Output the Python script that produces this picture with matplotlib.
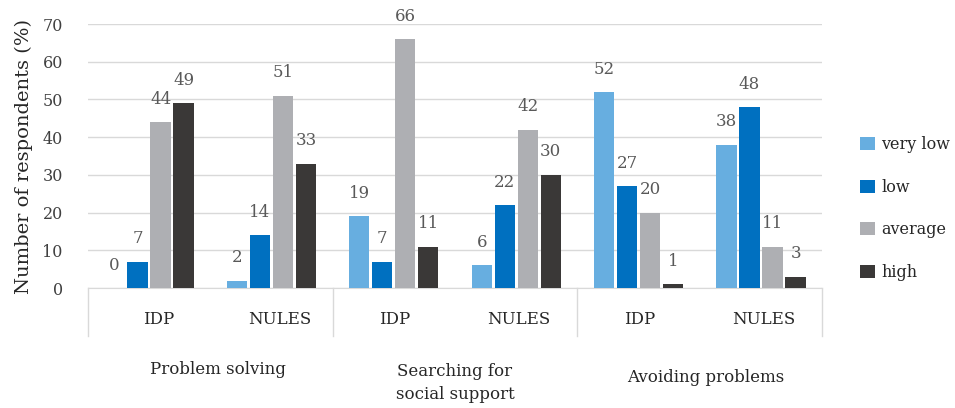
import numpy as np
import matplotlib
matplotlib.use('Agg')
import matplotlib.pyplot as plt

# === Данные ===
groups = ["Problem solving", "Searching for\nsocial support", "Avoiding problems"]
subgroups = ["IDP", "NULES", "IDP", "NULES", "IDP", "NULES"]
levels = ["very low", "low", "average", "high"]

very_low = [0, 2, 19, 6, 52, 38]
low = [7, 14, 7, 22, 27, 48]
average = [44, 51, 66, 42, 20, 11]
high = [49, 33, 11, 30, 1, 3]

colors = ["#67AEE0", "#0070C0", "#AEAFB3", "#3A3837"]

plt.rcParams['font.family'] = ['DejaVu Serif']

fig = plt.figure(figsize=(9.55, 4.08), dpi=100)
ax = fig.add_axes([0.092, 0.294, 0.769, 0.647])

x = np.arange(len(subgroups)) + 0.5
step = 0.188
width = 0.165

series = [very_low, low, average, high]
for i, (vals, col, name) in enumerate(zip(series, colors, levels)):
    pos = x + (i - 1.5) * step
    ax.bar(pos, vals, width=width, color=col, label=name, zorder=3)
    for p, v in zip(pos, vals):
        ax.annotate(str(v), (p, v), xytext=(0, 16.5), textcoords='offset points',
                    ha='center', va='center', fontsize=12, color='#595959')

ax.set_xlim(0, 6)
ax.set_ylim(0, 70)
ax.set_yticks(range(0, 71, 10))
ax.tick_params(axis='y', length=0, labelsize=11.5, labelcolor='#404040', pad=18)
ax.set_xticks([])
ax.grid(axis='y', color='#D9D9D9', linewidth=1, zorder=0)
for s in ['top', 'right', 'left']:
    ax.spines[s].set_visible(False)
ax.spines['bottom'].set_color('#D9D9D9')
ax.set_ylabel("Number of respondents (%)", fontsize=14, color='#262626', labelpad=7)

# двухуровневые подписи оси X
trans = ax.get_xaxis_transform()
for xs in [0, 2, 4, 6]:
    ax.plot([xs, xs], [0, -0.182], color='#D9D9D9', linewidth=1, transform=trans, clip_on=False)

sub_x = [0.58, 1.57, 2.51, 3.52, 4.51, 5.52]
for xi, lab in zip(sub_x, subgroups):
    ax.text(xi, -0.121, lab, transform=trans, ha='center', va='center', fontsize=12,
            color='#262626')

grp_x = [1.06, 3.0, 5.05]
grp_y = [-0.31, -0.36, -0.34]
for xi, yi, lab in zip(grp_x, grp_y, groups):
    ax.text(xi, yi, lab, transform=trans, ha='center', va='center', fontsize=12,
            color='#262626', linespacing=1.45)

ax.legend(loc='center left', bbox_to_anchor=(1.052, 0.301), frameon=False, fontsize=11.5,
          borderaxespad=0, borderpad=0,
          handlelength=0.9, handleheight=0.9, labelspacing=1.6, handletextpad=0.4,
          labelcolor='#262626')

fig.savefig("out.png", dpi=100)
